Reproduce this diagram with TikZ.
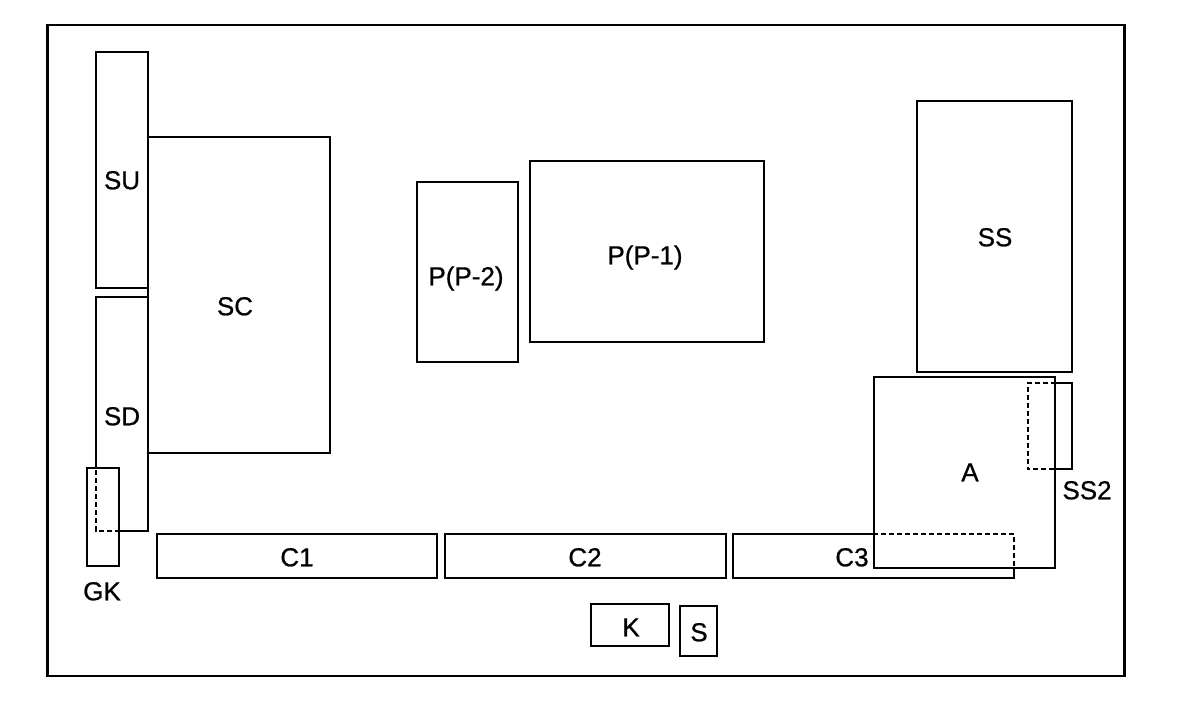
\documentclass[tikz,border=0pt]{standalone}
\usepackage{fontspec}
\setmainfont{Liberation Sans}[FakeBold=1.2]
\newfontfamily\lblfont{Liberation Sans}[FakeBold=0.8]
\begin{document}
\begin{tikzpicture}[x=1pt,y=-1pt,
  box/.style={draw=black, line width=2pt, rectangle, inner sep=0pt, minimum width=#1},
  hidden/.style={line width=2pt, dash pattern=on 5pt off 3pt},
  solidedge/.style={line width=2pt},
  lbl/.style={inner sep=0pt, text height=18.5pt, text depth=0pt, font=\lblfont\fontsize{26}{30}\selectfont}]
\useasboundingbox (0,0) rectangle (1180,721);
% outer frame
\node[draw=black, line width=2.5pt, inner sep=0pt, minimum width=1077pt, minimum height=651pt] (frame) at (586,350.5) {};
% boxes
\node[box=52pt, minimum height=236pt] (SU) at (122,170) {};
\node[box=182pt, minimum height=316pt] (SC) at (239,295) {};
\node[inner sep=0pt, minimum width=52pt, minimum height=234pt] (SD) at (122,414) {};
\node[box=32pt, minimum height=98pt] (GK) at (103,517) {};
\node[box=280pt, minimum height=44pt] (C1) at (297,556) {};
\node[box=281pt, minimum height=44pt] (C2) at (585.5,556) {};
\node[inner sep=0pt, minimum width=281pt, minimum height=44pt] (C3) at (873.5,556) {};
\node[box=101pt, minimum height=180pt] (P2) at (467.5,272) {};
\node[box=234pt, minimum height=181pt] (P1) at (647,251.5) {};
\node[box=155pt, minimum height=271pt] (SS) at (994.5,236.5) {};
\node[box=181pt, minimum height=191pt] (A) at (964.5,472.5) {};
\node[inner sep=0pt, minimum width=44pt, minimum height=86pt] (SS2) at (1050,426) {};
\node[box=78pt, minimum height=42pt] (K) at (630,625) {};
\node[box=37pt, minimum height=50pt] (S) at (698.5,631) {};
% SD: edges partly hidden behind GK
\draw[solidedge, line join=miter] (SD.west |- GK.north) -- (SD.north west) -- (SD.north east) -- (SD.south east) -- (GK.east |- SD.south);
\draw[hidden] (GK.east |- SD.south) -- (SD.south west) -- (SD.west |- GK.north);
% C3: part inside A hidden
\draw[solidedge, line join=miter] (A.west |- C3.north) -- (C3.north west) -- (C3.south west) -- (C3.south east) -- (C3.east |- A.south);
\draw[hidden] (A.west |- C3.north) -- (C3.north east) -- (C3.east |- A.south);
% SS2: part inside A hidden
\draw[solidedge, line join=miter] (A.east |- SS2.north) -- (SS2.north east) -- (SS2.south east) -- (A.east |- SS2.south);
\draw[hidden] (A.east |- SS2.north) -- (SS2.north west) -- (SS2.south west) -- (A.east |- SS2.south);
% labels
\node[lbl] (tSU) at (122,180) {SU};
\node[lbl] (tSD) at (122,416) {SD};
\node[lbl] (tSC) at (235,306) {SC};
\node[lbl] (tGK) at (102,591) {GK};
\node[lbl] (tC1) at (297,557) {C1};
\node[lbl] (tC2) at (585,557) {C2};
\node[lbl] (tC3) at (852,557) {C3};
\node[lbl] (tP2) at (466,276) {P(P-2)};
\node[lbl] (tP1) at (645,255) {P(P-1)};
\node[lbl] (tSS) at (995,237) {SS};
\node[lbl] (tA) at (970,472) {A};
\node[lbl] (tSS2) at (1087,490) {SS2};
\node[lbl] (tK) at (631,627) {K};
\node[lbl] (tS) at (699,632) {S};
\end{tikzpicture}
\end{document}
